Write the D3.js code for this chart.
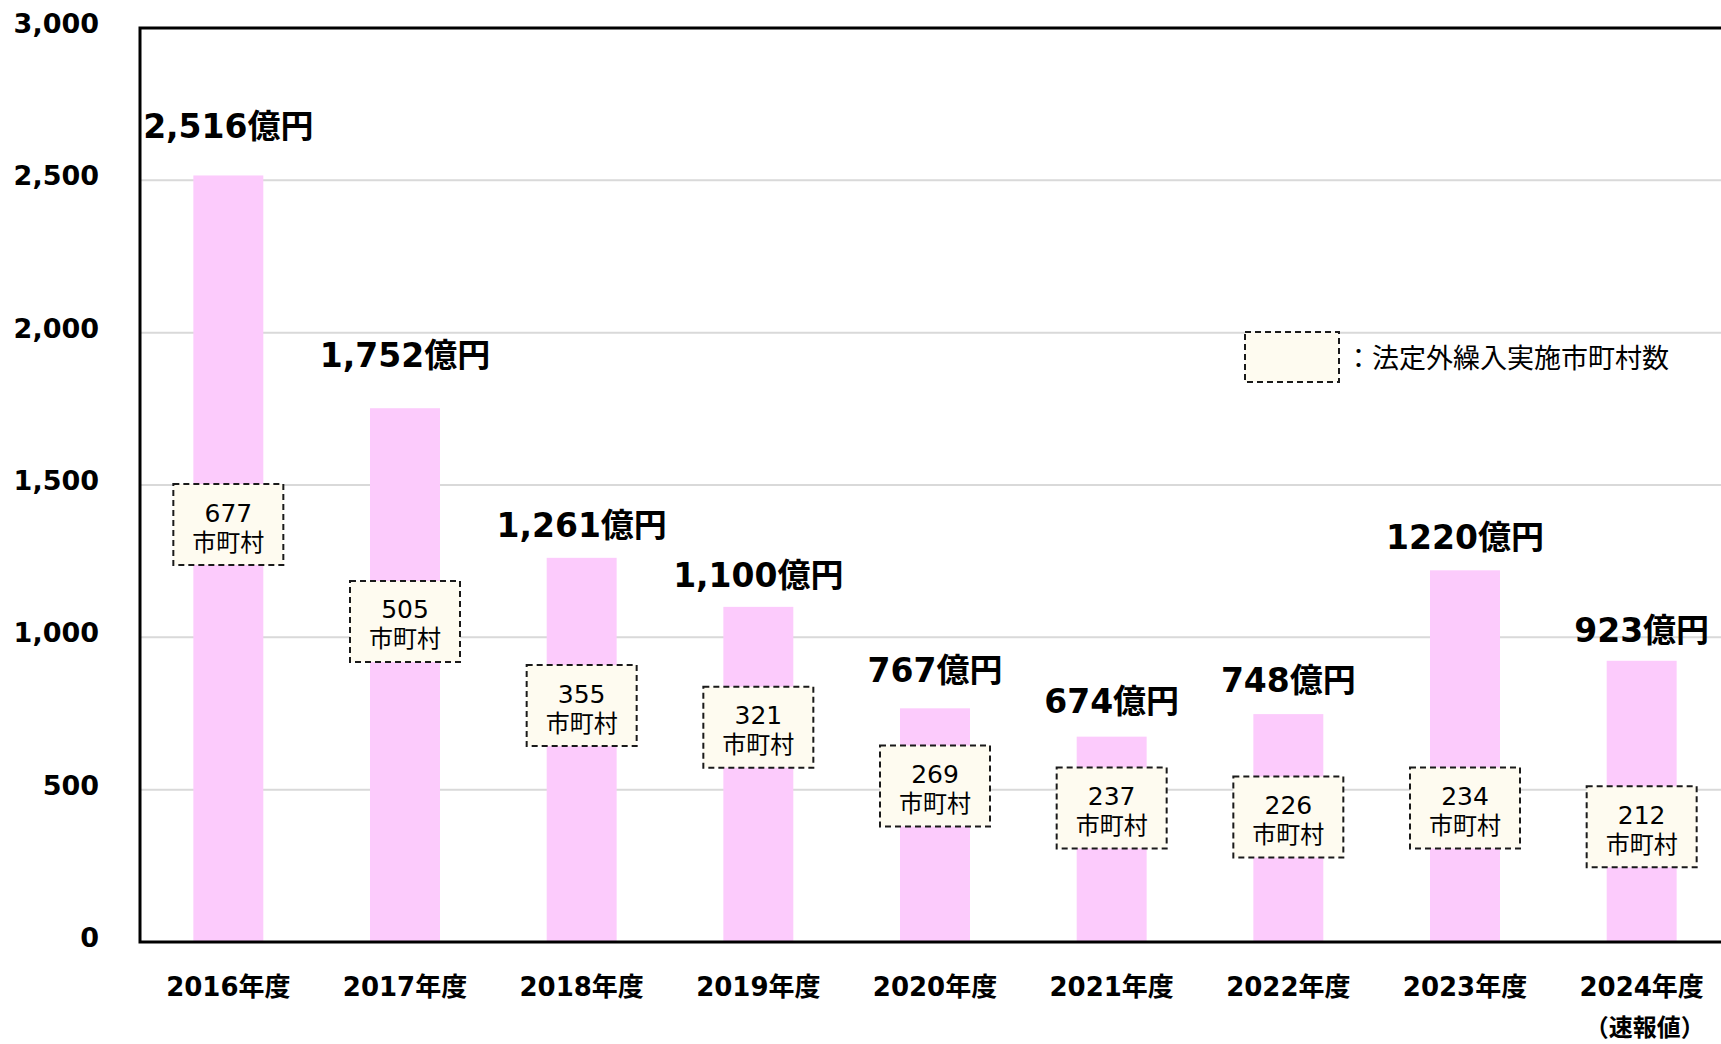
<!DOCTYPE html>
<html lang="ja">
<head>
<meta charset="utf-8">
<script src="https://cdn.jsdelivr.net/npm/d3@7"></script>
<style>
  html, body { margin: 0; padding: 0; background: #fff; }
  svg { display: block; }
</style>
</head>
<body>
<svg id="chart" width="1721" height="1044"></svg>
<script>
// 決算補填等目的の法定外一般会計繰入額と実施市町村数
const years = ["2016年度", "2017年度", "2018年度", "2019年度", "2020年度",
               "2021年度", "2022年度", "2023年度", "2024年度"];
const amounts = [2516, 1752, 1261, 1100, 767, 674, 748, 1220, 923];          // 億円
const amountLabels = ["2,516億円", "1,752億円", "1,261億円", "1,100億円", "767億円",
                      "674億円", "748億円", "1220億円", "923億円"];
const municipalities = [677, 505, 355, 321, 269, 237, 226, 234, 212];        // 市町村数
const yTicks = [0, 500, 1000, 1500, 2000, 2500, 3000];
const provisionalNote = "（速報値）";
const legendText = "：法定外繰入実施市町村数";

// レイアウト調整（ラベルとボックスの配置）
const labelGap = [37, 41, 21, 20, 26, 24, 22, 21, 19];                // 棒上端からラベルまで(px)
const boxCenterAt = [1370, 1052, 776, 705, 512, 440, 410, 440, 378];  // ボックス中心の縦位置（軸の値）

const svg = d3.select("#chart");
const W = 1721, H = 1044;
const plot = { left: 140, right: 1730, top: 28, bottom: 942 };

const latin = "'DejaVu Sans', 'Noto Sans CJK JP', sans-serif";
const cjk = "'Noto Sans CJK JP', sans-serif";

const x = d3.scaleBand()
  .domain(years)
  .range([plot.left, plot.right])
  .paddingInner(0.604)
  .paddingOuter(0.302);

const y = d3.scaleLinear()
  .domain([0, 3000])
  .range([plot.bottom, plot.top]);

// 目盛線
svg.append("g")
  .selectAll("line")
  .data(yTicks.filter(t => t > 0 && t < 3000))
  .join("line")
  .attr("x1", plot.left).attr("x2", W)
  .attr("y1", d => y(d)).attr("y2", d => y(d))
  .attr("stroke", "#d9d9d9")
  .attr("stroke-width", 2);

// 縦軸ラベル
const yAxis = d3.axisLeft(y)
  .tickValues(yTicks)
  .tickFormat(d3.format(","))
  .tickSize(0)
  .tickPadding(0);

const yAxisG = svg.append("g")
  .attr("transform", "translate(99,0)")
  .call(yAxis);
yAxisG.select(".domain").remove();
yAxisG.selectAll("text")
  .attr("dy", "0.32em")
  .attr("y", -4)
  .style("font-family", latin)
  .style("font-weight", "bold")
  .style("font-size", "27px")
  .attr("fill", "#000");

// 棒
svg.append("g")
  .selectAll("rect")
  .data(years)
  .join("rect")
  .attr("x", d => x(d))
  .attr("width", x.bandwidth())
  .attr("y", (d, i) => y(amounts[i]))
  .attr("height", (d, i) => y(0) - y(amounts[i]))
  .attr("fill", "#fccbfc");

// 枠線（左・上・下）
svg.append("path")
  .attr("d", `M${W},${plot.top}H${plot.left}V${plot.bottom}H${W}`)
  .attr("fill", "none")
  .attr("stroke", "#000")
  .attr("stroke-width", 3);

// 金額ラベル
svg.append("g")
  .selectAll("text")
  .data(years)
  .join("text")
  .attr("x", d => x(d) + x.bandwidth() / 2)
  .attr("y", (d, i) => y(amounts[i]) - labelGap[i])
  .attr("text-anchor", "middle")
  .style("font-family", latin)
  .style("font-weight", "bold")
  .style("font-size", "33px")
  .attr("fill", "#000")
  .text((d, i) => amountLabels[i]);

// 市町村数ボックス
const boxW = 110, boxH = 81;
const boxFill = "#fefbf0";
const boxes = svg.append("g")
  .selectAll("g")
  .data(years)
  .join("g")
  .attr("transform", (d, i) =>
    `translate(${x(d) + x.bandwidth() / 2},${y(boxCenterAt[i])})`);

boxes.append("rect")
  .attr("x", -boxW / 2).attr("y", -boxH / 2)
  .attr("width", boxW).attr("height", boxH)
  .attr("fill", boxFill)
  .attr("stroke", "#1a1a1a")
  .attr("stroke-width", 2)
  .attr("stroke-dasharray", "6,4");

boxes.append("text")
  .attr("y", -3)
  .attr("text-anchor", "middle")
  .style("font-family", latin)
  .style("font-size", "25px")
  .attr("fill", "#000")
  .text((d, i) => municipalities[i]);

boxes.append("text")
  .attr("y", 26)
  .attr("text-anchor", "middle")
  .style("font-family", cjk)
  .style("font-size", "24px")
  .attr("fill", "#000")
  .text("市町村");

// 年度ラベル
const xAxis = d3.axisBottom(x).tickSize(0).tickPadding(0);
const xAxisG = svg.append("g")
  .attr("transform", `translate(0,${plot.bottom})`)
  .call(xAxis);
xAxisG.select(".domain").remove();
xAxisG.selectAll("text")
  .attr("dy", null)
  .attr("y", 54)
  .style("font-family", latin)
  .style("font-weight", "bold")
  .style("font-size", "26px")
  .attr("fill", "#000");

svg.append("text")
  .attr("x", x(years[years.length - 1]) + x.bandwidth() / 2 + 3)
  .attr("y", 1036)
  .attr("text-anchor", "middle")
  .style("font-family", cjk)
  .style("font-weight", "bold")
  .style("font-size", "24px")
  .attr("fill", "#000")
  .text(provisionalNote);

// 凡例
const legend = svg.append("g").attr("transform", "translate(1245,332)");
legend.append("rect")
  .attr("width", 94).attr("height", 50)
  .attr("fill", boxFill)
  .attr("stroke", "#1a1a1a")
  .attr("stroke-width", 2)
  .attr("stroke-dasharray", "6,4");
legend.append("text")
  .attr("x", 100)
  .attr("y", 36)
  .style("font-family", cjk)
  .style("font-size", "27px")
  .attr("fill", "#000")
  .text(legendText);
</script>
</body>
</html>
